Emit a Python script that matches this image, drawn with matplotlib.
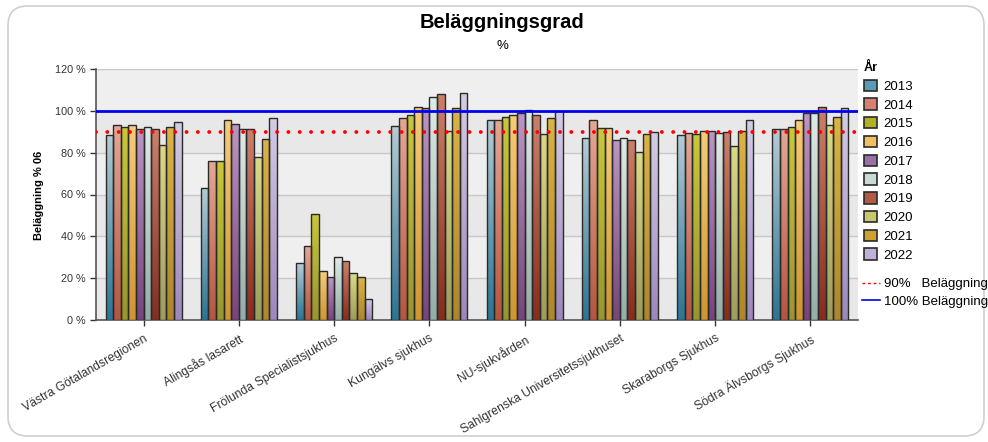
import numpy as np
import matplotlib
matplotlib.use('Agg')
import matplotlib.pyplot as plt
from matplotlib.colors import LinearSegmentedColormap
from matplotlib.patches import Patch, FancyBboxPatch
from matplotlib.lines import Line2D

plt.rcParams['font.family'] = ['Liberation Sans', 'DejaVu Sans']

categories = ['Västra Götalandsregionen', 'Alingsås lasarett', 'Frölunda Specialistsjukhus',
              'Kungälvs sjukhus', 'NU-sjukvården', 'Sahlgrenska Universitetssjukhuset',
              'Skaraborgs Sjukhus', 'Södra Älvsborgs Sjukhus']
years = ['2013', '2014', '2015', '2016', '2017', '2018', '2019', '2020', '2021', '2022']

v2013 = [88.6, 63.3, 27.1, 92.8, 95.8, 86.9, 88.6, 91.5]
v2014 = [93.3, 75.8, 35.4, 96.5, 95.8, 95.4, 89.3, 91.5]
v2015 = [92.1, 75.8, 50.5, 97.8, 97.1, 91.7, 89.1, 92.1]
v2016 = [93.3, 95.8, 23.4, 101.9, 97.8, 91.7, 90.4, 95.8]
v2017 = [91.5, 93.9, 20.4, 101.3, 99.0, 86.2, 90.4, 99.0]
v2018 = [92.1, 91.5, 30.0, 106.7, 100.6, 86.9, 89.3, 99.0]
v2019 = [91.5, 91.5, 28.2, 108.2, 97.8, 86.2, 89.7, 101.9]
v2020 = [83.7, 77.7, 22.3, 90.5, 89.1, 80.1, 83.2, 93.4]
v2021 = [92.1, 86.7, 20.4, 101.3, 96.5, 89.1, 90.4, 97.1]
v2022 = [94.7, 96.5, 10.1, 108.7, 99.8, 89.9, 95.8, 101.3]
series = [v2013, v2014, v2015, v2016, v2017, v2018, v2019, v2020, v2021, v2022]

ref_90 = 90
ref_100 = 100

# (bottom, top, legend swatch) colours per year
col_bottom = ['#2b7595', '#b4563f', '#969630', '#cf9530', '#76457c',
              '#93aea6', '#862d1e', '#9c9c5c', '#ae862c', '#9c88bc']
col_top = ['#b4ccd4', '#e4a894', '#c8c838', '#f6cc78', '#bc96c4',
           '#dfeae6', '#cc806a', '#dada88', '#dab444', '#d4cce4']
col_legend = ['#5a9ab5', '#d88070', '#b0b020', '#f0c060', '#9a70a8',
              '#c8dad5', '#b05a45', '#c8c870', '#d0a030', '#c0b0d8']

fig = plt.figure(figsize=(9.88, 4.42), dpi=100)
ax = fig.add_axes([96 / 988, 122 / 442, 762 / 988, 251 / 442])

# background bands and grid
for i, lo in enumerate(range(0, 120, 20)):
    ax.axhspan(lo, lo + 20, color='#e8e8e8' if i % 2 == 0 else '#efefef', zorder=0, lw=0)
for yv in range(20, 121, 20):
    ax.axhline(yv, color='#c8c8c8', lw=1, zorder=1)

x = np.arange(len(categories))
bw = 0.08
grad = np.linspace(0, 1, 64).reshape(-1, 1)
for j, vals in enumerate(series):
    xs = x - 0.4 + bw * (j + 0.5)
    bars = ax.bar(xs, vals, width=bw, facecolor='none', edgecolor='#2a2a2a', lw=1.0, zorder=4)
    cmap = LinearSegmentedColormap.from_list('c%d' % j, [col_bottom[j], col_top[j]])
    for b in bars:
        im = ax.imshow(grad, extent=[b.get_x(), b.get_x() + b.get_width(), 0, b.get_height()],
                       origin='lower', aspect='auto', cmap=cmap, zorder=3)
        im.set_clip_path(b)

ax.axhline(ref_100, color='#0000ee', lw=2, zorder=5)
ax.axhline(ref_90, color='#ff0000', lw=2.8, ls=(0, (0.01, 2.9)), dash_capstyle='round', zorder=5)

ax.set_xlim(-0.5, len(categories) - 0.5)
ax.set_ylim(0, 120)
ax.set_yticks(range(0, 121, 20))
ax.set_yticklabels(['%d %%' % t for t in range(0, 121, 20)])
ax.set_xticks(x)
ax.set_xticklabels(categories, rotation=30, ha='right', rotation_mode='anchor', fontsize=8.7)
ax.tick_params(axis='y', labelsize=7.8)
ax.tick_params(axis='both', colors='#333333', length=4, width=1)
ax.tick_params(axis='x', pad=5)
for s in ['top', 'right']:
    ax.spines[s].set_visible(False)
for s in ['left', 'bottom']:
    ax.spines[s].set_color('#555555')
    ax.spines[s].set_linewidth(1.2)

fig.text(502 / 988, 1 - 22 / 442, 'Beläggningsgrad', ha='center', va='center',
         fontsize=14.5, fontweight='bold')
fig.text(502 / 988, 1 - 46 / 442, '%', ha='center', va='center', fontsize=9.5)
fig.text(39 / 988, 1 - 195 / 442, 'Beläggning % 06', ha='center', va='center',
         rotation=90, fontsize=8, fontweight='bold')

handles = [Patch(facecolor=c, edgecolor='#2a2a2a', lw=1.2) for c in col_legend]
leg = fig.legend(handles, years, loc='upper left', bbox_to_anchor=(864 / 988, 1 - 62 / 442),
                 frameon=False, fontsize=9.5, title='År', title_fontproperties={'weight': 'bold', 'size': 9},
                 alignment='left', handlelength=0.95, handleheight=0.95, handletextpad=0.55,
                 labelspacing=0.42, borderpad=0, borderaxespad=0)

line_handles = [Line2D([], [], color='#ff0000', lw=1, ls=(0, (2, 2))),
                Line2D([], [], color='#0000ee', lw=1.2)]
fig.legend(line_handles, ['90%   Beläggning', '100% Beläggning'], loc='upper left',
           bbox_to_anchor=(862 / 988, 1 - 278 / 442), frameon=False, fontsize=9.5,
           handlelength=1.4, handletextpad=0.3, labelspacing=0.42, borderpad=0, borderaxespad=0)

fig.add_artist(FancyBboxPatch((8 / 988, 6 / 442), 976 / 988, 430 / 442,
                              boxstyle='round,pad=0,rounding_size=0.02', mutation_aspect=2.2,
                              transform=fig.transFigure, facecolor='none', edgecolor='#cfcfcf', lw=1.2))

fig.savefig('out.png', dpi=100)
